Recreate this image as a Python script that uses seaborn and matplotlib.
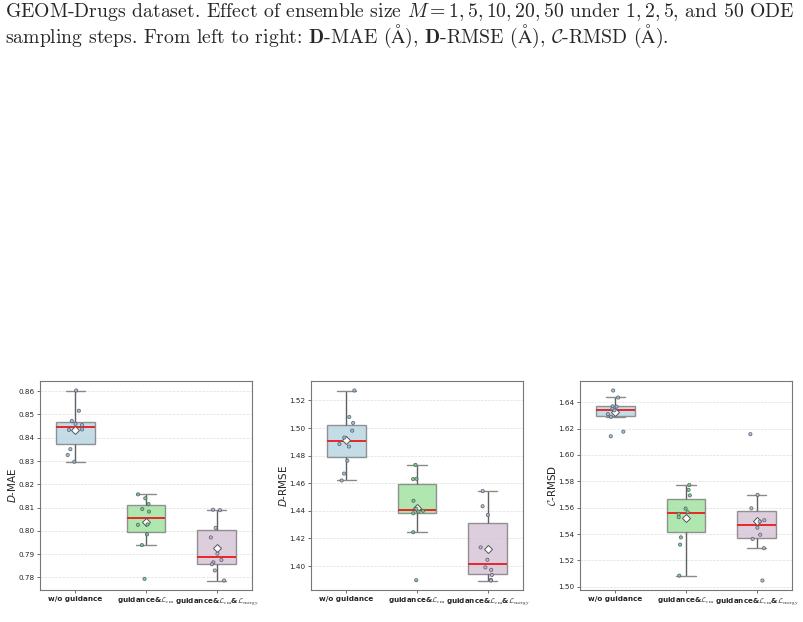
import numpy as np
import pandas as pd
import matplotlib.pyplot as plt
import seaborn as sns

# group names (x tick labels)
groups = ['w/o guidance',
          r'guidance&$\mathcal{L}_{\rm em}$',
          r'guidance&$\mathcal{L}_{\rm em}$&$\mathcal{L}_{\rm energy}$']

# D-MAE values
mae_wo = [0.8603, 0.8516, 0.8472, 0.8460, 0.8455, 0.8436, 0.8434, 0.8351, 0.8326, 0.8297]
mae_em = [0.8157, 0.8140, 0.8115, 0.8094, 0.8083, 0.8028, 0.8026, 0.7985, 0.7939, 0.7794]
mae_en = [0.8091, 0.8089, 0.8013, 0.7972, 0.7902, 0.7875, 0.7865, 0.7857, 0.7830, 0.7787]

# D-RMSE
rmse_wo = [1.5272, 1.5080, 1.5037, 1.4981, 1.4931, 1.4884, 1.4866, 1.4763, 1.4670, 1.4620]
rmse_em = [1.4733, 1.4632, 1.4630, 1.4473, 1.4415, 1.4400, 1.4395, 1.4382, 1.4245, 1.3897]
rmse_en = [1.4543, 1.4433, 1.4370, 1.4135, 1.4045, 1.3990, 1.3972, 1.3935, 1.3900, 1.3895]

# C-RMSD
rmsd_wo = [1.6488, 1.6435, 1.6368, 1.6366, 1.6350, 1.6338, 1.6309, 1.6289, 1.6176, 1.6141]
rmsd_em = [1.5772, 1.5735, 1.5693, 1.5593, 1.5566, 1.5553, 1.5528, 1.5375, 1.5320, 1.5085]
rmsd_en = [1.6157, 1.5697, 1.5595, 1.5505, 1.5495, 1.5448, 1.5395, 1.5363, 1.5293, 1.5048]

metrics = [
    (r'$D$-MAE', [mae_wo, mae_em, mae_en], 'dejavusans'),
    (r'$D$-RMSE', [rmse_wo, rmse_em, rmse_en], 'dejavusans'),
    (r'$\mathcal{C}$-RMSD', [rmsd_wo, rmsd_em, rmsd_en], 'cm'),
]

box_colors = ['#ADD8E6', '#90EE90', '#D8BFD8']
point_colors = ['#9cc0d6', '#6fd26f', '#cfb2cf']

sns.set_style('ticks')
np.random.seed(3)

fig = plt.figure(figsize=(8.04, 6.22), dpi=100)

# caption above the figure
cap_kw = dict(fontsize=14.2, family=['cmr10', 'DejaVu Serif'], math_fontfamily='cm', va='top')
fig.text(5 / 804, 1 - 1 / 622,
         r'GEOM-Drugs dataset. Effect of ensemble size $M = 1, 5, 10, 20, 50$ under $1, 2, 5$, and 50 ODE',
         **cap_kw)
fig.text(5 / 804, 1 - 23 / 622,
         r'sampling steps. From left to right: $\mathbf{D}$-MAE ($\mathrm{\AA}$), $\mathbf{D}$-RMSE ($\mathrm{\AA}$), $\mathcal{C}$-RMSD ($\mathrm{\AA}$).',
         **cap_kw)

lefts = [40, 311, 580]
for (label, series, mfont), left in zip(metrics, lefts):
    ax = fig.add_axes([left / 804, 32 / 622, 212 / 804, 209 / 622])
    df = pd.DataFrame({
        'group': np.repeat(groups, [len(s) for s in series]),
        'value': np.concatenate(series),
    })
    sns.boxplot(data=df, x='group', y='value', hue='group', palette=box_colors,
                order=groups, hue_order=groups, width=0.55, showfliers=False,
                showmeans=True, legend=False, linewidth=1.0, linecolor='#7a7a7a',
                boxprops=dict(alpha=0.8),
                whiskerprops=dict(color='#606060'),
                capprops=dict(color='#8a8a8a'),
                medianprops=dict(color='#e8262a', linewidth=1.4),
                meanprops=dict(marker='D', markerfacecolor='white',
                               markeredgecolor='#555555', markersize=4.0,
                               markeredgewidth=0.7),
                ax=ax)
    sns.stripplot(data=df, x='group', y='value', hue='group', palette=point_colors,
                  order=groups, hue_order=groups, jitter=0.12, size=2.3,
                  linewidth=0.6, edgecolor='#556070', alpha=0.9, legend=False, ax=ax)

    ax.set_xlabel('')
    ax.set_ylabel(label, fontsize=7.5, math_fontfamily=mfont, labelpad=0.5)
    ax.set_xticks(range(len(groups)))
    ax.set_xticklabels(groups, fontsize=5.2, fontweight='bold', math_fontfamily='cm')
    ax.tick_params(axis='y', labelsize=5.2, length=2.5, width=0.6, color='#555555', pad=1.5)
    ax.tick_params(axis='x', length=2.5, width=0.6, color='#555555', pad=2)
    ax.yaxis.grid(True, linestyle='--', linewidth=0.5, color='#dddddd')
    ax.set_axisbelow(True)
    for sp in ax.spines.values():
        sp.set_color('#777777')
        sp.set_linewidth(0.8)

fig.savefig('out.png', dpi=100)
